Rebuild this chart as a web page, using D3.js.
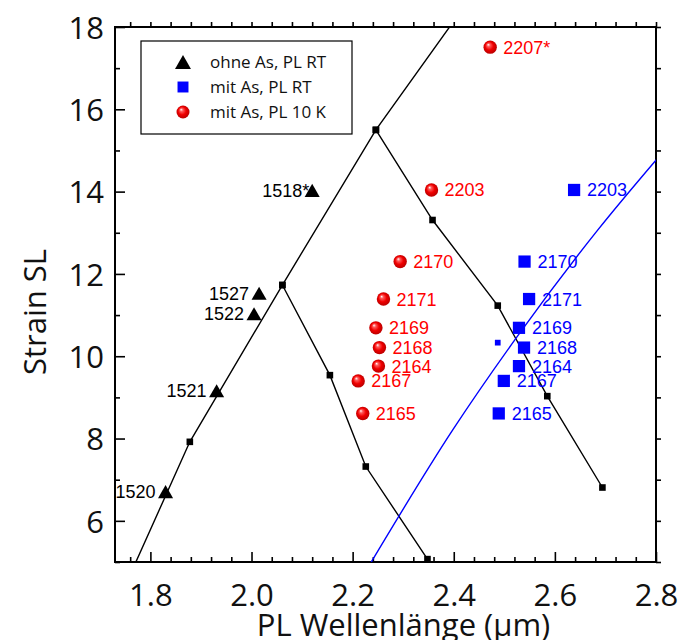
<!DOCTYPE html>
<html>
<head>
<meta charset="utf-8">
<script src="https://cdn.jsdelivr.net/npm/d3@7"></script>
<style>
  body { margin: 0; background: #fff; }
  svg { display: block; }
</style>
</head>
<body>
<svg id="chart" width="682" height="640"></svg>
<script>
// ohne As, PL RT (black triangles, labels on the left)
const triNames = ['1518*', '1527', '1522', '1521', '1520'];
const triX = [2.120, 2.015, 2.005, 1.931, 1.830];
const triY = [14.03, 11.53, 11.03, 9.16, 6.71];

// mit As, PL 10 K (red spheres)
const redNames = ['2207*', '2203', '2170', '2171', '2169', '2168', '2164', '2167', '2165'];
const redX = [2.472, 2.356, 2.294, 2.261, 2.246, 2.253, 2.251, 2.211, 2.220];
const redY = [17.51, 14.04, 12.30, 11.39, 10.69, 10.21, 9.76, 9.40, 8.61];

// mit As, PL RT (blue squares)
const blueNames = ['2203', '2170', '2171', '2169', '2168', '2164', '2167', '2165'];
const blueX = [2.638, 2.540, 2.549, 2.529, 2.539, 2.529, 2.499, 2.489];
const blueY = [14.04, 12.30, 11.39, 10.69, 10.21, 9.76, 9.40, 8.61];
// extra small blue point without label
const blueSmallX = [2.487];
const blueSmallY = [10.33];

// black model curves (nodes); first/last nodes lie outside the frame
const curve1X = [1.753, 1.878, 2.061, 2.246, 2.415];
const curve1Y = [4.50, 7.92, 11.73, 15.50, 18.40];
const curve2X = [2.061, 2.155, 2.226, 2.348];
const curve2Y = [11.73, 9.54, 7.32, 5.07];
const curve3X = [2.246, 2.358, 2.487, 2.585, 2.694];
const curve3Y = [15.50, 13.31, 11.23, 9.03, 6.81];

// blue model curve
const blueLineX = [2.232, 2.398, 2.525, 2.685, 2.810];
const blueLineY = [4.90, 8.21, 10.47, 13.07, 14.91];

const xMajor = [1.8, 2.0, 2.2, 2.4, 2.6, 2.8];
const yMajor = [6, 8, 10, 12, 14, 16, 18];

const legendLabels = ['ohne As, PL RT', 'mit As, PL RT', 'mit As, PL 10 K'];

const width = 682, height = 640;
const margin = { top: 27, right: 26, bottom: 78, left: 115 };
const axisFont = '"Open Sans", "Noto Sans", sans-serif';
const labelFont = '"Liberation Sans", Arial, sans-serif';

const svg = d3.select('#chart');

const x = d3.scaleLinear().domain([1.73, 2.8]).range([margin.left, width - margin.right]);
const y = d3.scaleLinear().domain([5, 18]).range([height - margin.bottom, margin.top]);

// triangle centered on its bounding box
const triangleBox = {
  draw(ctx, size) {
    const s = Math.sqrt((size * 4) / Math.sqrt(3));
    const h = (s * Math.sqrt(3)) / 2;
    ctx.moveTo(0, -h / 2);
    ctx.lineTo(s / 2, h / 2);
    ctx.lineTo(-s / 2, h / 2);
    ctx.closePath();
  },
};

const defs = svg.append('defs');
defs.append('clipPath').attr('id', 'plot-clip')
  .append('rect')
  .attr('x', margin.left).attr('y', margin.top)
  .attr('width', width - margin.left - margin.right)
  .attr('height', height - margin.top - margin.bottom);

const grad = defs.append('radialGradient')
  .attr('id', 'sphere').attr('cx', '50%').attr('cy', '50%').attr('r', '55%')
  .attr('fx', '35%').attr('fy', '30%');
grad.append('stop').attr('offset', '0%').attr('stop-color', '#ffffff');
grad.append('stop').attr('offset', '22%').attr('stop-color', '#ff5a5a');
grad.append('stop').attr('offset', '55%').attr('stop-color', '#f00000');
grad.append('stop').attr('offset', '100%').attr('stop-color', '#b00000');

// ---- axes (ticks inward, mirrored on top/right)
const xMinor = d3.range(1.76, 2.8001, 0.04).filter(v => !xMajor.some(m => Math.abs(m - v) < 1e-6));
const yMinor = d3.range(5, 18.001, 1).filter(v => !yMajor.includes(v));

function addAxis(axisGen, tr, ticks, len, withLabels) {
  const g = svg.append('g').attr('transform', tr)
    .call(axisGen.tickValues(ticks).tickSize(-len).tickSizeOuter(0)
      .tickFormat(withLabels ? null : ''));
  g.select('.domain').remove();
  g.selectAll('.tick line').attr('stroke', '#000').attr('stroke-width', 1.6);
  return g;
}

const bottomY = height - margin.bottom, leftX = margin.left;
const rightX = width - margin.right, topY = margin.top;

const gxb = addAxis(d3.axisBottom(x), `translate(0,${bottomY})`, xMajor, 10, true);
gxb.selectAll('.tick text')
  .text(d => d3.format('.1f')(d))
  .attr('font-family', axisFont).attr('font-size', 31).attr('fill', '#111')
  .attr('y', 0).attr('dy', 0).attr('transform', 'translate(0,44)');
addAxis(d3.axisBottom(x), `translate(0,${bottomY})`, xMinor, 5, false);
addAxis(d3.axisTop(x), `translate(0,${topY})`, xMajor.concat(xMinor), -5, false);

const gyl = addAxis(d3.axisLeft(y), `translate(${leftX},0)`, yMajor, 10, true);
gyl.selectAll('.tick text')
  .attr('font-family', axisFont).attr('font-size', 31).attr('fill', '#111')
  .attr('x', -11).attr('dy', '0.36em');
addAxis(d3.axisLeft(y), `translate(${leftX},0)`, yMinor, 5, false);
addAxis(d3.axisRight(y), `translate(${rightX},0)`, yMajor.concat(yMinor), -5, false);

// frame
svg.append('rect')
  .attr('x', leftX).attr('y', topY)
  .attr('width', rightX - leftX).attr('height', bottomY - topY)
  .attr('fill', 'none').attr('stroke', '#000').attr('stroke-width', 2);

// axis titles
svg.append('text')
  .attr('x', (leftX + rightX) / 2 + 18).attr('y', 636)
  .attr('text-anchor', 'middle')
  .attr('font-family', axisFont).attr('font-size', 31).attr('fill', '#111')
  .text('PL Wellenlänge (µm)');
svg.append('text')
  .attr('transform', `translate(46,312) rotate(-90)`)
  .attr('text-anchor', 'middle')
  .attr('font-family', axisFont).attr('font-size', 31).attr('fill', '#111')
  .text('Strain SL');

// ---- curves
const plot = svg.append('g').attr('clip-path', 'url(#plot-clip)');
const zip = (xs, ys) => xs.map((v, i) => [v, ys[i]]);
const polyline = d3.line().x(d => x(d[0])).y(d => y(d[1]));
const smooth = d3.line().x(d => x(d[0])).y(d => y(d[1])).curve(d3.curveMonotoneX);

[zip(curve1X, curve1Y), zip(curve2X, curve2Y), zip(curve3X, curve3Y)].forEach(pts => {
  plot.append('path').attr('d', polyline(pts))
    .attr('fill', 'none').attr('stroke', '#000').attr('stroke-width', 1.4);
});
plot.append('path').attr('d', smooth(zip(blueLineX, blueLineY)))
  .attr('fill', 'none').attr('stroke', '#0000ff').attr('stroke-width', 1.4);

// node markers (only those inside the frame)
const nodes = zip(curve1X, curve1Y).concat(zip(curve2X, curve2Y), zip(curve3X, curve3Y))
  .filter(d => d[0] >= 1.73 && d[0] <= 2.8 && d[1] >= 5 && d[1] <= 18);
plot.selectAll('rect.node').data(nodes).join('rect')
  .attr('class', 'node')
  .attr('x', d => x(d[0]) - 3.3).attr('y', d => y(d[1]) - 3.3)
  .attr('width', 6.6).attr('height', 6.6).attr('fill', '#000');

// ---- black triangles with labels
const tri = d3.symbol().type(triangleBox).size(98);
triNames.forEach((name, i) => {
  const px = x(triX[i]), py = y(triY[i]);
  svg.append('text')
    .attr('x', px - 10).attr('y', py).attr('dy', '0.36em')
    .attr('text-anchor', 'end')
    .attr('font-family', labelFont).attr('font-size', 18).attr('fill', '#000')
    .text(name.replace('*', ''));
  if (name.includes('*')) {
    svg.append('text')
      .attr('x', px - 10).attr('y', py).attr('dy', '0.36em')
      .attr('font-family', labelFont).attr('font-size', 18).attr('fill', '#000')
      .text('*');
  }
  svg.append('path').attr('d', tri).attr('transform', `translate(${px},${py})`).attr('fill', '#000');
});

// ---- red spheres
redNames.forEach((name, i) => {
  const px = x(redX[i]), py = y(redY[i]);
  svg.append('circle').attr('cx', px).attr('cy', py).attr('r', 6.7).attr('fill', 'url(#sphere)');
  svg.append('text')
    .attr('x', px + 13).attr('y', py).attr('dy', '0.36em')
    .attr('font-family', labelFont).attr('font-size', 18).attr('fill', '#ff0000')
    .text(name);
});

// ---- blue squares
const sq = d3.symbol().type(d3.symbolSquare);
blueNames.forEach((name, i) => {
  const px = x(blueX[i]), py = y(blueY[i]);
  svg.append('path').attr('d', sq.size(150)()).attr('transform', `translate(${px},${py})`).attr('fill', '#0000ff');
  svg.append('text')
    .attr('x', px + 13).attr('y', py).attr('dy', '0.36em')
    .attr('font-family', labelFont).attr('font-size', 18).attr('fill', '#0000ff')
    .text(name);
});
blueSmallX.forEach((v, i) => {
  svg.append('path').attr('d', sq.size(33)())
    .attr('transform', `translate(${x(v)},${y(blueSmallY[i])})`).attr('fill', '#0000ff');
});

// ---- legend
const lg = svg.append('g');
lg.append('rect').attr('x', 141).attr('y', 41).attr('width', 211).attr('height', 93)
  .attr('fill', '#fff').attr('stroke', '#000').attr('stroke-width', 1.2);
const rows = [62, 87, 112];
lg.append('path').attr('d', d3.symbol().type(triangleBox).size(110)()).attr('transform', `translate(183,${rows[0]})`).attr('fill', '#000');
lg.append('path').attr('d', sq.size(120)()).attr('transform', `translate(183,${rows[1]})`).attr('fill', '#0000ff');
lg.append('circle').attr('cx', 183).attr('cy', rows[2]).attr('r', 6.5).attr('fill', 'url(#sphere)');
legendLabels.forEach((t, i) => {
  lg.append('text').attr('x', 210).attr('y', rows[i]).attr('dy', '0.36em')
    .attr('font-family', axisFont).attr('font-size', 17).attr('fill', '#111')
    .text(t);
});
</script>
</body>
</html>
